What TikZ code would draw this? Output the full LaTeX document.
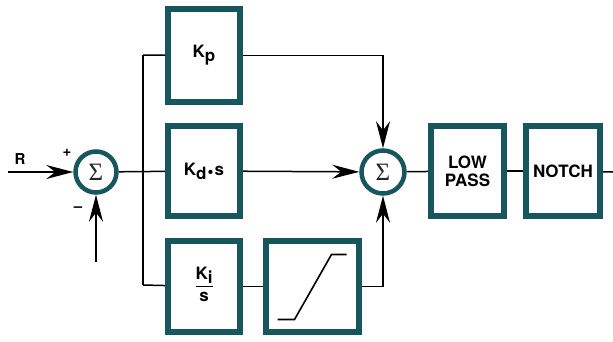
\documentclass[tikz,border=0pt]{standalone}
\usepackage{fontspec}
\setmainfont{TeX Gyre Heros}
\newfontfamily\sigfont{Liberation Serif}
\usetikzlibrary{arrows.meta}
\definecolor{teal1}{RGB}{22,86,92}
\tikzset{
  blk/.style={draw=teal1, line width=6pt, fill=white, inner sep=0pt,
    font=\bfseries\fontsize{17}{18}\selectfont, align=center},
  sumj/.style={circle, draw=teal1, line width=4.5pt, fill=white, inner sep=0pt,
    font=\sigfont\fontsize{25}{25}\selectfont, text=black!85},
  wire/.style={line width=1.5pt, black},
  arr/.style={wire, -{Stealth[length=27pt,width=14pt,inset=9pt]}},
  lbl/.style={font=\bfseries\fontsize{15}{15}\selectfont, inner sep=0pt}
}
\begin{document}
\begin{tikzpicture}[x=1pt,y=-1pt]
\useasboundingbox (0,0) rectangle (613,341);
% nodes
\node[sumj, minimum size=41pt] (s1) at (96,172) {Σ};
\node[sumj, minimum size=43pt] (s2) at (383,172) {Σ};
\node[blk, minimum width=72pt, minimum height=93pt] (kp) at (204,55.5) {K\raisebox{-4pt}{p}};
\node[blk, minimum width=72pt, minimum height=90pt] (kd) at (204,171) {K\raisebox{-4pt}{d}\kern1pt\raisebox{-2pt}{\textbullet}\kern1pt s};
\node[blk, minimum width=72pt, minimum height=91pt] (ki) at (204,286.5)
  {\begin{tabular}{@{}c@{}}K\raisebox{-4pt}{i}\\[1pt]\hline\rule{0pt}{15pt}s\end{tabular}};
\node[blk, minimum width=93pt, minimum height=91pt] (sat) at (312.5,286.5) {};
\node[blk, minimum width=73pt, minimum height=90pt] (lp) at (467.5,171) {LOW\\PASS};
\node[blk, minimum width=74pt, minimum height=90pt] (nt) at (563,171) {NOTCH};
\node[lbl] (r) at (20,159) {R};
\node[lbl] (plus) at (67,153) {+};
\node[lbl] (minus) at (78,209) {\textendash};
% coordinates
\coordinate (in) at (8,172);
\coordinate (fb) at (96,262);
\coordinate (bt) at (143,55);
\coordinate (bb) at (143,285);
\coordinate (out) at (613,172);
% saturation curve
\draw[wire, line width=1.6pt] ([shift={(-35,33)}]sat.center) -- ([shift={(-18,33)}]sat.center)
  -- ([shift={(19,-32)}]sat.center) -- ([shift={(34,-32)}]sat.center);
% wires
\draw[arr] (in) -- (s1);
\draw[arr] (fb) -- (s1);
\draw[wire] (s1) -- (kd);
\draw[wire] (bt) -- (bb);
\draw[wire] (bt) -- (kp);
\draw[wire] (bb) -- (ki);
\draw[arr] (kp.east) -| (s2.north);
\draw[arr] (kd) -- (s2);
\draw[wire] (ki) -- (sat);
\draw[arr] (sat.east) -| (s2.south);
\draw[wire] (s2) -- (lp);
\draw[wire] (lp) -- (nt);
\draw[wire] (nt) -- (out);
\end{tikzpicture}
\end{document}
